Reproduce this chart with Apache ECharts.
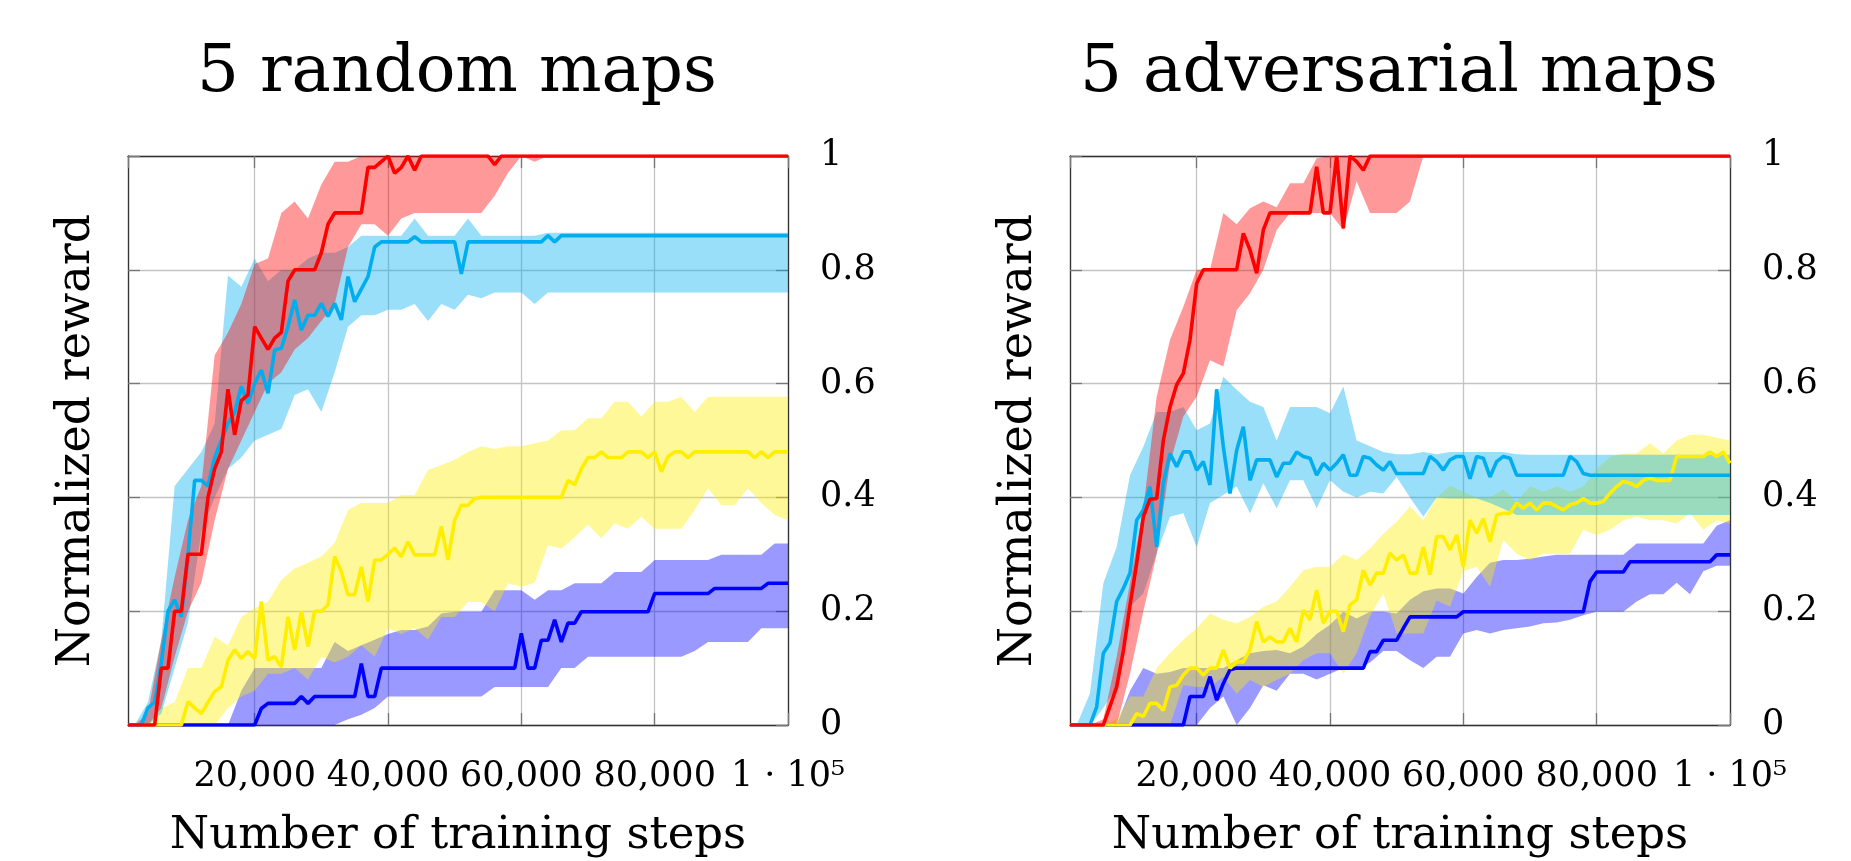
<!DOCTYPE html>
<html>
<head>
<meta charset="utf-8">
<script src="https://cdn.jsdelivr.net/npm/echarts@6/dist/echarts.min.js"></script>
<style>
html, body { margin: 0; padding: 0; background: #fff; }
#chart { width: 1851px; height: 861px; }
</style>
</head>
<body>
<div id="chart"></div>
<script>
// training steps of the mean curves (every 1000)
var steps = [1000, 2000, 3000, 4000, 5000, 6000, 7000, 8000, 9000, 10000,
	11000, 12000, 13000, 14000, 15000, 16000, 17000, 18000, 19000, 20000,
	21000, 22000, 23000, 24000, 25000, 26000, 27000, 28000, 29000, 30000,
	31000, 32000, 33000, 34000, 35000, 36000, 37000, 38000, 39000, 40000,
	41000, 42000, 43000, 44000, 45000, 46000, 47000, 48000, 49000, 50000,
	51000, 52000, 53000, 54000, 55000, 56000, 57000, 58000, 59000, 60000,
	61000, 62000, 63000, 64000, 65000, 66000, 67000, 68000, 69000, 70000,
	71000, 72000, 73000, 74000, 75000, 76000, 77000, 78000, 79000, 80000,
	81000, 82000, 83000, 84000, 85000, 86000, 87000, 88000, 89000, 90000,
	91000, 92000, 93000, 94000, 95000, 96000, 97000, 98000, 99000, 100000];
// training steps of the min/max bands (every 2000)
var bandSteps = [1000, 2000, 4000, 6000, 8000, 10000, 12000, 14000, 16000, 18000,
	20000, 22000, 24000, 26000, 28000, 30000, 32000, 34000, 36000, 38000,
	40000, 42000, 44000, 46000, 48000, 50000, 52000, 54000, 56000, 58000,
	60000, 62000, 64000, 66000, 68000, 70000, 72000, 74000, 76000, 78000,
	80000, 82000, 84000, 86000, 88000, 90000, 92000, 94000, 96000, 98000, 100000];

var xTickValues = [20000, 40000, 60000, 80000, 100000];
var xTickLabels = ['20,000', '40,000', '60,000', '80,000', '1 · 10⁵'];
var yTickValues = [0, 0.2, 0.4, 0.6, 0.8, 1];
var yTickLabels = ['0', '0.2', '0.4', '0.6', '0.8', '1'];

// ---- 5 random maps ----
var rRedMean = [0, 0, 0, 0, 0, 0.1, 0.1, 0.2, 0.2, 0.3,
	0.3, 0.3, 0.4, 0.45, 0.48, 0.59, 0.51, 0.57, 0.58, 0.7,
	0.68, 0.66, 0.68, 0.69, 0.78, 0.8, 0.8, 0.8, 0.8, 0.83,
	0.88, 0.9, 0.9, 0.9, 0.9, 0.9, 0.98, 0.98, 0.99, 1,
	0.97, 0.98, 1, 0.975, 1, 1, 1, 1, 1, 1,
	1, 1, 1, 1, 1, 0.985, 1, 1, 1, 1,
	1, 1, 1, 1, 1, 1, 1, 1, 1, 1,
	1, 1, 1, 1, 1, 1, 1, 1, 1, 1,
	1, 1, 1, 1, 1, 1, 1, 1, 1, 1,
	1, 1, 1, 1, 1, 1, 1, 1, 1, 1];
var rRedLo = [0, 0, 0, 0.03, 0.12, 0.2, 0.25, 0.36, 0.45, 0.5,
	0.55, 0.6, 0.62, 0.66, 0.68, 0.71, 0.74, 0.84, 0.88, 0.88,
	0.86, 0.89, 0.9, 0.9, 0.9, 0.9, 0.9, 0.9, 0.93, 0.97,
	1, 0.99, 1, 1, 1, 1, 1, 1, 1, 1,
	1, 1, 1, 1, 1, 1, 1, 1, 1, 1, 1];
var rRedHi = [0, 0, 0.02, 0.15, 0.26, 0.36, 0.42, 0.65, 0.69, 0.74,
	0.81, 0.82, 0.9, 0.92, 0.89, 0.95, 0.99, 0.99, 1, 1,
	1, 1, 1, 1, 1, 1, 1, 1, 1, 1,
	1, 1, 1, 1, 1, 1, 1, 1, 1, 1,
	1, 1, 1, 1, 1, 1, 1, 1, 1, 1, 1];

var rCyanMean = [0, 0, 0, 0.03, 0.04, 0.11, 0.2, 0.22, 0.19, 0.3,
	0.43, 0.43, 0.42, 0.47, 0.5, 0.53, 0.55, 0.595, 0.565, 0.6,
	0.624, 0.583, 0.659, 0.662, 0.7, 0.747, 0.694, 0.72, 0.72, 0.741,
	0.718, 0.741, 0.712, 0.788, 0.744, 0.766, 0.788, 0.84, 0.849, 0.849,
	0.849, 0.849, 0.849, 0.858, 0.849, 0.849, 0.849, 0.849, 0.849, 0.849,
	0.793, 0.849, 0.849, 0.849, 0.849, 0.849, 0.849, 0.849, 0.849, 0.849,
	0.849, 0.849, 0.849, 0.86, 0.849, 0.86, 0.86, 0.86, 0.86, 0.86,
	0.86, 0.86, 0.86, 0.86, 0.86, 0.86, 0.86, 0.86, 0.86, 0.86,
	0.86, 0.86, 0.86, 0.86, 0.86, 0.86, 0.86, 0.86, 0.86, 0.86,
	0.86, 0.86, 0.86, 0.86, 0.86, 0.86, 0.86, 0.86, 0.86, 0.86];
var rCyanLo = [0, 0, 0, 0.02, 0.1, 0.18, 0.34, 0.4, 0.45, 0.47,
	0.5, 0.51, 0.52, 0.58, 0.59, 0.55, 0.62, 0.7, 0.72, 0.72,
	0.73, 0.73, 0.74, 0.71, 0.74, 0.73, 0.756, 0.75, 0.76, 0.76,
	0.76, 0.74, 0.76, 0.76, 0.76, 0.76, 0.76, 0.76, 0.76, 0.76,
	0.76, 0.76, 0.76, 0.76, 0.76, 0.76, 0.76, 0.76, 0.76, 0.76, 0.76];
var rCyanHi = [0, 0, 0.04, 0.15, 0.42, 0.45, 0.48, 0.53, 0.79, 0.77,
	0.82, 0.78, 0.8, 0.8, 0.82, 0.83, 0.83, 0.84, 0.86, 0.86,
	0.86, 0.86, 0.89, 0.86, 0.86, 0.86, 0.89, 0.86, 0.86, 0.86,
	0.86, 0.86, 0.865, 0.865, 0.865, 0.865, 0.865, 0.865, 0.865, 0.865,
	0.865, 0.865, 0.865, 0.865, 0.865, 0.865, 0.865, 0.865, 0.865, 0.865, 0.865];

var rYellowMean = [0, 0, 0, 0, 0, 0, 0, 0, 0, 0.041,
	0.03, 0.02, 0.04, 0.059, 0.067, 0.114, 0.132, 0.117, 0.129, 0.117,
	0.217, 0.114, 0.12, 0.102, 0.19, 0.132, 0.2, 0.138, 0.2, 0.2,
	0.211, 0.296, 0.27, 0.229, 0.229, 0.278, 0.217, 0.29, 0.29, 0.3,
	0.311, 0.296, 0.322, 0.299, 0.299, 0.299, 0.299, 0.349, 0.29, 0.36,
	0.386, 0.386, 0.398, 0.4, 0.4, 0.4, 0.4, 0.4, 0.4, 0.4,
	0.4, 0.4, 0.4, 0.4, 0.4, 0.4, 0.43, 0.422, 0.45, 0.47,
	0.47, 0.48, 0.47, 0.47, 0.47, 0.48, 0.48, 0.48, 0.47, 0.48,
	0.445, 0.472, 0.48, 0.48, 0.47, 0.48, 0.48, 0.48, 0.48, 0.48,
	0.48, 0.48, 0.48, 0.48, 0.47, 0.48, 0.47, 0.48, 0.48, 0.48];
var rYellowLo = [0, 0, 0, 0, 0, 0, 0, 0, 0.03, 0.05,
	0.06, 0.09, 0.09, 0.1, 0.08, 0.12, 0.11, 0.12, 0.14, 0.12,
	0.17, 0.16, 0.17, 0.15, 0.19, 0.19, 0.216, 0.216, 0.2, 0.249,
	0.243, 0.25, 0.316, 0.31, 0.33, 0.352, 0.328, 0.354, 0.345, 0.366,
	0.345, 0.345, 0.345, 0.378, 0.416, 0.386, 0.386, 0.416, 0.39, 0.369, 0.36];
var rYellowHi = [0, 0, 0, 0.03, 0.04, 0.1, 0.1, 0.155, 0.14, 0.19,
	0.205, 0.217, 0.255, 0.275, 0.285, 0.296, 0.32, 0.378, 0.39, 0.39,
	0.39, 0.404, 0.404, 0.448, 0.457, 0.466, 0.48, 0.49, 0.485, 0.49,
	0.49, 0.495, 0.5, 0.518, 0.518, 0.539, 0.539, 0.568, 0.568, 0.542,
	0.568, 0.568, 0.577, 0.55, 0.577, 0.577, 0.577, 0.577, 0.577, 0.577, 0.577];

var rBlueMean = [0, 0, 0, 0, 0, 0, 0, 0, 0, 0,
	0, 0, 0, 0, 0, 0, 0, 0, 0, 0,
	0.029, 0.038, 0.038, 0.038, 0.038, 0.038, 0.05, 0.038, 0.05, 0.05,
	0.05, 0.05, 0.05, 0.05, 0.05, 0.108, 0.05, 0.05, 0.1, 0.1,
	0.1, 0.1, 0.1, 0.1, 0.1, 0.1, 0.1, 0.1, 0.1, 0.1,
	0.1, 0.1, 0.1, 0.1, 0.1, 0.1, 0.1, 0.1, 0.1, 0.161,
	0.1, 0.1, 0.149, 0.149, 0.185, 0.146, 0.179, 0.179, 0.199, 0.199,
	0.199, 0.199, 0.199, 0.199, 0.199, 0.199, 0.199, 0.199, 0.199, 0.231,
	0.231, 0.231, 0.231, 0.231, 0.231, 0.231, 0.231, 0.231, 0.24, 0.24,
	0.24, 0.24, 0.24, 0.24, 0.24, 0.24, 0.249, 0.249, 0.249, 0.249];
var rBlueLo = [0, 0, 0, 0, 0, 0, 0, 0, 0, 0,
	0, 0, 0, 0, 0, 0, 0, 0.01, 0.018, 0.03,
	0.05, 0.05, 0.05, 0.05, 0.05, 0.05, 0.05, 0.05, 0.067, 0.067,
	0.067, 0.067, 0.067, 0.1, 0.1, 0.12, 0.12, 0.12, 0.12, 0.12,
	0.12, 0.12, 0.12, 0.13, 0.146, 0.146, 0.146, 0.146, 0.17, 0.17, 0.17];
var rBlueHi = [0, 0, 0, 0, 0, 0, 0, 0, 0, 0.06,
	0.1, 0.1, 0.1, 0.1, 0.1, 0.1, 0.146, 0.13, 0.14, 0.15,
	0.16, 0.167, 0.167, 0.173, 0.196, 0.199, 0.199, 0.199, 0.237, 0.237,
	0.237, 0.22, 0.237, 0.237, 0.249, 0.249, 0.249, 0.269, 0.269, 0.269,
	0.29, 0.29, 0.29, 0.29, 0.29, 0.299, 0.299, 0.299, 0.299, 0.319, 0.319];

// ---- 5 adversarial maps ----
var aRedMean = [0, 0, 0, 0, 0, 0, 0.033, 0.067, 0.13, 0.21,
	0.284, 0.366, 0.397, 0.398, 0.5, 0.559, 0.598, 0.618, 0.677, 0.776,
	0.8, 0.8, 0.8, 0.8, 0.8, 0.8, 0.864, 0.835, 0.794, 0.87,
	0.9, 0.9, 0.9, 0.9, 0.9, 0.9, 0.9, 0.981, 0.9, 0.9,
	1, 0.873, 1, 0.99, 0.975, 1, 1, 1, 1, 1,
	1, 1, 1, 1, 1, 1, 1, 1, 1, 1,
	1, 1, 1, 1, 1, 1, 1, 1, 1, 1,
	1, 1, 1, 1, 1, 1, 1, 1, 1, 1,
	1, 1, 1, 1, 1, 1, 1, 1, 1, 1,
	1, 1, 1, 1, 1, 1, 1, 1, 1, 1];
var aRedLo = [0, 0, 0, 0, 0, 0.09, 0.2, 0.3, 0.46, 0.542,
	0.577, 0.641, 0.63, 0.729, 0.759, 0.8, 0.87, 0.9, 0.9, 0.9,
	0.9, 0.87, 0.955, 0.9, 0.9, 0.9, 0.92, 1, 1, 1,
	1, 1, 1, 1, 1, 1, 1, 1, 1, 1,
	1, 1, 1, 1, 1, 1, 1, 1, 1, 1, 1];
var aRedHi = [0, 0, 0, 0.01, 0.12, 0.25, 0.38, 0.577, 0.677, 0.735,
	0.8, 0.8, 0.9, 0.88, 0.908, 0.92, 0.91, 0.952, 0.952, 0.996,
	1, 1, 1, 1, 1, 1, 1, 1, 1, 1,
	1, 1, 1, 1, 1, 1, 1, 1, 1, 1,
	1, 1, 1, 1, 1, 1, 1, 1, 1, 1, 1];

var aCyanMean = [0, 0, 0, 0, 0.032, 0.126, 0.144, 0.217, 0.24, 0.267,
	0.36, 0.378, 0.419, 0.313, 0.425, 0.477, 0.454, 0.48, 0.48, 0.448,
	0.463, 0.422, 0.59, 0.489, 0.407, 0.483, 0.524, 0.43, 0.466, 0.466,
	0.466, 0.436, 0.46, 0.46, 0.48, 0.472, 0.469, 0.439, 0.46, 0.448,
	0.46, 0.475, 0.439, 0.439, 0.472, 0.469, 0.457, 0.448, 0.463, 0.442,
	0.442, 0.442, 0.442, 0.442, 0.472, 0.463, 0.448, 0.466, 0.472, 0.472,
	0.433, 0.472, 0.469, 0.436, 0.463, 0.472, 0.469, 0.439, 0.439, 0.439,
	0.439, 0.439, 0.439, 0.439, 0.439, 0.472, 0.463, 0.442, 0.439, 0.439,
	0.439, 0.439, 0.439, 0.439, 0.439, 0.439, 0.439, 0.439, 0.439, 0.439,
	0.439, 0.439, 0.439, 0.439, 0.439, 0.439, 0.439, 0.439, 0.439, 0.439];
var aCyanLo = [0, 0, 0, 0.03, 0.067, 0.208, 0.231, 0.302, 0.366, 0.372,
	0.313, 0.39, 0.404, 0.419, 0.372, 0.425, 0.381, 0.43, 0.43, 0.381,
	0.43, 0.41, 0.4, 0.41, 0.407, 0.436, 0.4, 0.366, 0.4, 0.398,
	0.398, 0.398, 0.39, 0.38, 0.369, 0.369, 0.369, 0.369, 0.369, 0.369,
	0.369, 0.369, 0.369, 0.369, 0.369, 0.369, 0.369, 0.369, 0.369, 0.369, 0.369];
var aCyanHi = [0, 0, 0.056, 0.249, 0.313, 0.439, 0.489, 0.55, 0.55, 0.559,
	0.518, 0.53, 0.612, 0.589, 0.568, 0.559, 0.5, 0.559, 0.559, 0.559,
	0.548, 0.595, 0.5, 0.49, 0.48, 0.476, 0.476, 0.48, 0.476, 0.48,
	0.48, 0.48, 0.48, 0.48, 0.476, 0.475, 0.475, 0.475, 0.475, 0.475,
	0.475, 0.475, 0.475, 0.475, 0.475, 0.475, 0.475, 0.475, 0.475, 0.475, 0.475];

var aYellowMean = [0, 0, 0, 0, 0, 0, 0, 0, 0, 0,
	0.02, 0.015, 0.038, 0.038, 0.026, 0.067, 0.07, 0.088, 0.1, 0.1,
	0.088, 0.1, 0.1, 0.132, 0.1, 0.111, 0.111, 0.132, 0.182, 0.146,
	0.155, 0.146, 0.146, 0.17, 0.146, 0.202, 0.185, 0.237, 0.179, 0.2,
	0.2, 0.164, 0.211, 0.22, 0.272, 0.246, 0.267, 0.267, 0.302, 0.29,
	0.299, 0.267, 0.267, 0.313, 0.264, 0.331, 0.331, 0.308, 0.334, 0.278,
	0.36, 0.337, 0.363, 0.322, 0.369, 0.372, 0.372, 0.39, 0.381, 0.39,
	0.378, 0.39, 0.39, 0.384, 0.378, 0.387, 0.39, 0.398, 0.39, 0.39,
	0.393, 0.407, 0.419, 0.428, 0.425, 0.419, 0.43, 0.434, 0.43, 0.43,
	0.43, 0.472, 0.472, 0.472, 0.472, 0.472, 0.48, 0.472, 0.48, 0.46];
var aYellowLo = [0, 0, 0, 0, 0, 0, 0, 0, 0, 0.07,
	0.067, 0.067, 0.085, 0.055, 0.079, 0.067, 0.079, 0.09, 0.114, 0.126,
	0.126, 0.09, 0.126, 0.191, 0.231, 0.161, 0.161, 0.161, 0.219, 0.208,
	0.27, 0.278, 0.243, 0.325, 0.301, 0.29, 0.301, 0.301, 0.301, 0.343,
	0.334, 0.343, 0.36, 0.366, 0.36, 0.36, 0.354, 0.372, 0.343, 0.36, 0.354];
var aYellowHi = [0, 0, 0, 0, 0.01, 0.05, 0.05, 0.1, 0.126, 0.15,
	0.17, 0.196, 0.185, 0.179, 0.19, 0.208, 0.217, 0.243, 0.272, 0.278,
	0.278, 0.3, 0.29, 0.31, 0.336, 0.357, 0.384, 0.36, 0.4, 0.42,
	0.41, 0.4, 0.4, 0.414, 0.393, 0.419, 0.41, 0.419, 0.41, 0.419,
	0.45, 0.471, 0.477, 0.477, 0.495, 0.477, 0.5, 0.51, 0.51, 0.505, 0.5];

var aBlueMean = [0, 0, 0, 0, 0, 0, 0, 0, 0, 0,
	0, 0, 0, 0, 0, 0, 0, 0, 0.05, 0.05,
	0.05, 0.085, 0.044, 0.073, 0.097, 0.1, 0.1, 0.1, 0.1, 0.1,
	0.1, 0.1, 0.1, 0.1, 0.1, 0.1, 0.1, 0.1, 0.1, 0.1,
	0.1, 0.1, 0.1, 0.1, 0.1, 0.129, 0.129, 0.149, 0.149, 0.149,
	0.17, 0.19, 0.19, 0.19, 0.19, 0.19, 0.19, 0.19, 0.19, 0.199,
	0.199, 0.199, 0.199, 0.199, 0.199, 0.199, 0.199, 0.199, 0.199, 0.199,
	0.199, 0.199, 0.199, 0.199, 0.199, 0.199, 0.199, 0.199, 0.252, 0.269,
	0.269, 0.269, 0.269, 0.269, 0.287, 0.287, 0.287, 0.287, 0.287, 0.287,
	0.287, 0.287, 0.287, 0.287, 0.287, 0.287, 0.287, 0.299, 0.299, 0.299];
var aBlueLo = [0, 0, 0, 0, 0, 0, 0, 0, 0, 0,
	0, 0.03, 0.05, 0, 0.03, 0.07, 0.06, 0.09, 0.09, 0.08,
	0.09, 0.1, 0.1, 0.11, 0.13, 0.13, 0.114, 0.1, 0.12, 0.12,
	0.161, 0.167, 0.161, 0.167, 0.17, 0.173, 0.179, 0.18, 0.185, 0.193,
	0.199, 0.199, 0.199, 0.217, 0.23, 0.23, 0.25, 0.23, 0.27, 0.28, 0.28];
var aBlueHi = [0, 0, 0, 0, 0, 0.06, 0.1, 0.09, 0.093, 0.1,
	0.1, 0.1, 0.1, 0.114, 0.126, 0.13, 0.132, 0.126, 0.138, 0.16,
	0.176, 0.199, 0.187, 0.199, 0.199, 0.196, 0.22, 0.235, 0.24, 0.24,
	0.231, 0.26, 0.285, 0.29, 0.29, 0.292, 0.296, 0.299, 0.299, 0.299,
	0.299, 0.299, 0.299, 0.319, 0.319, 0.319, 0.319, 0.319, 0.319, 0.35, 0.36];

var FONT = 'DejaVu Serif';
var RED = '#ff0000', CYAN = '#00aeef', YELLOW = '#ffee00', BLUE = '#0000ff';

function pairs(xs, ys) {
	var out = [];
	for (var i = 0; i < xs.length; i++) out.push([xs[i], ys[i]]);
	return out;
}

// min/max band as one polygon: upper edge left->right, lower edge back
function band(g, lo, hi, fill, z) {
	var rows = [];
	for (var i = 0; i < bandSteps.length; i++) rows.push([bandSteps[i], lo[i], hi[i]]);
	return {
		type: 'custom', xAxisIndex: 2 * g, yAxisIndex: 2 * g,
		data: rows, encode: { x: 0, y: [1, 2] }, silent: true, z: z, clip: true,
		renderItem: function (params, api) {
			if (params.dataIndex !== 0) return null;
			var pts = [], i;
			for (i = 0; i < rows.length; i++) pts.push(api.coord([rows[i][0], rows[i][2]]));
			for (i = rows.length - 1; i >= 0; i--) pts.push(api.coord([rows[i][0], rows[i][1]]));
			return { type: 'polygon', shape: { points: pts }, style: { fill: fill } };
		}
	};
}

function mean(g, vals, color, z) {
	return {
		type: 'line', xAxisIndex: 2 * g, yAxisIndex: 2 * g,
		data: pairs(steps, vals), symbol: 'none', silent: true, z: z,
		color: color, lineStyle: { color: color, width: 3.6 }
	};
}

function xAxes(g) {
	var base = {
		gridIndex: g, type: 'value', min: 1000, max: 100000, splitNumber: 5,
		axisLine: { show: true, onZero: false, lineStyle: { color: '#333', width: 1.3 } },
		axisTick: { show: true, inside: true, length: 12, lineStyle: { color: '#777', width: 1.3 } }
	};
	return [
		Object.assign({}, base, {
			position: 'bottom',
			axisLabel: {
				show: true, margin: 34, fontSize: 35, fontFamily: FONT, color: '#000',
				showMinLabel: false,
				formatter: function (v) {
					var i = xTickValues.indexOf(v);
					return i < 0 ? '' : xTickLabels[i];
				}
			},
			splitLine: { show: true, lineStyle: { color: '#c4c4c4', width: 1.3 } },
			name: 'Number of training steps', nameLocation: 'middle', nameGap: 89,
			nameTextStyle: { fontSize: 45, fontFamily: FONT, color: '#000' }
		}),
		Object.assign({}, base, {
			position: 'top', axisLabel: { show: false }, splitLine: { show: false }
		})
	];
}

function yAxes(g) {
	var base = {
		gridIndex: g, type: 'value', min: 0, max: 1, interval: 0.2,
		axisLine: { show: true, onZero: false, lineStyle: { color: '#333', width: 1.3 } },
		axisTick: { show: true, inside: true, length: 12, lineStyle: { color: '#777', width: 1.3 } }
	};
	return [
		Object.assign({}, base, {
			position: 'left', axisLabel: { show: false },
			splitLine: { show: true, lineStyle: { color: '#c4c4c4', width: 1.3 } },
			name: 'Normalized reward', nameLocation: 'middle', nameRotate: 90, nameGap: 28,
			nameTextStyle: { fontSize: 46, fontFamily: FONT, color: '#000' }
		}),
		Object.assign({}, base, {
			position: 'right', splitLine: { show: false },
			axisLabel: {
				show: true, margin: 32, fontSize: 35, fontFamily: FONT, color: '#000',
				formatter: function (v) {
					for (var i = 0; i < yTickValues.length; i++) {
						if (Math.abs(yTickValues[i] - v) < 1e-6) return yTickLabels[i];
					}
					return '';
				}
			}
		})
	];
}

function panelSeries(g, d) {
	return [
		band(g, d.blueLo, d.blueHi, 'rgba(0,0,255,0.4)', 1),
		band(g, d.yellowLo, d.yellowHi, 'rgba(255,238,0,0.4)', 2),
		band(g, d.cyanLo, d.cyanHi, 'rgba(0,174,239,0.4)', 3),
		band(g, d.redLo, d.redHi, 'rgba(255,0,0,0.4)', 4),
		mean(g, d.blue, BLUE, 5),
		mean(g, d.yellow, YELLOW, 6),
		mean(g, d.cyan, CYAN, 7),
		mean(g, d.red, RED, 8)
	];
}

var chart = echarts.init(document.getElementById('chart'));

var option = {
	animation: false,
	backgroundColor: '#fff',
	title: [{
		text: '5 random maps', left: 452, top: 36, textAlign: 'center',
		textStyle: { fontFamily: FONT, fontSize: 66, fontWeight: 'normal', color: '#000' }
	}, {
		text: '5 adversarial maps', left: 1394, top: 36, textAlign: 'center',
		textStyle: { fontFamily: FONT, fontSize: 66, fontWeight: 'normal', color: '#000' }
	}],
	grid: [
		{ left: 128, top: 156, width: 660, height: 569, outerBoundsMode: 'none' },
		{ left: 1070, top: 156, width: 660, height: 569, outerBoundsMode: 'none' }
	],
	xAxis: xAxes(0).concat(xAxes(1)),
	yAxis: yAxes(0).concat(yAxes(1)),
	series: panelSeries(0, {
		red: rRedMean, redLo: rRedLo, redHi: rRedHi,
		cyan: rCyanMean, cyanLo: rCyanLo, cyanHi: rCyanHi,
		yellow: rYellowMean, yellowLo: rYellowLo, yellowHi: rYellowHi,
		blue: rBlueMean, blueLo: rBlueLo, blueHi: rBlueHi
	}).concat(panelSeries(1, {
		red: aRedMean, redLo: aRedLo, redHi: aRedHi,
		cyan: aCyanMean, cyanLo: aCyanLo, cyanHi: aCyanHi,
		yellow: aYellowMean, yellowLo: aYellowLo, yellowHi: aYellowHi,
		blue: aBlueMean, blueLo: aBlueLo, blueHi: aBlueHi
	}))
};

chart.setOption(option);
</script>
</body>
</html>
